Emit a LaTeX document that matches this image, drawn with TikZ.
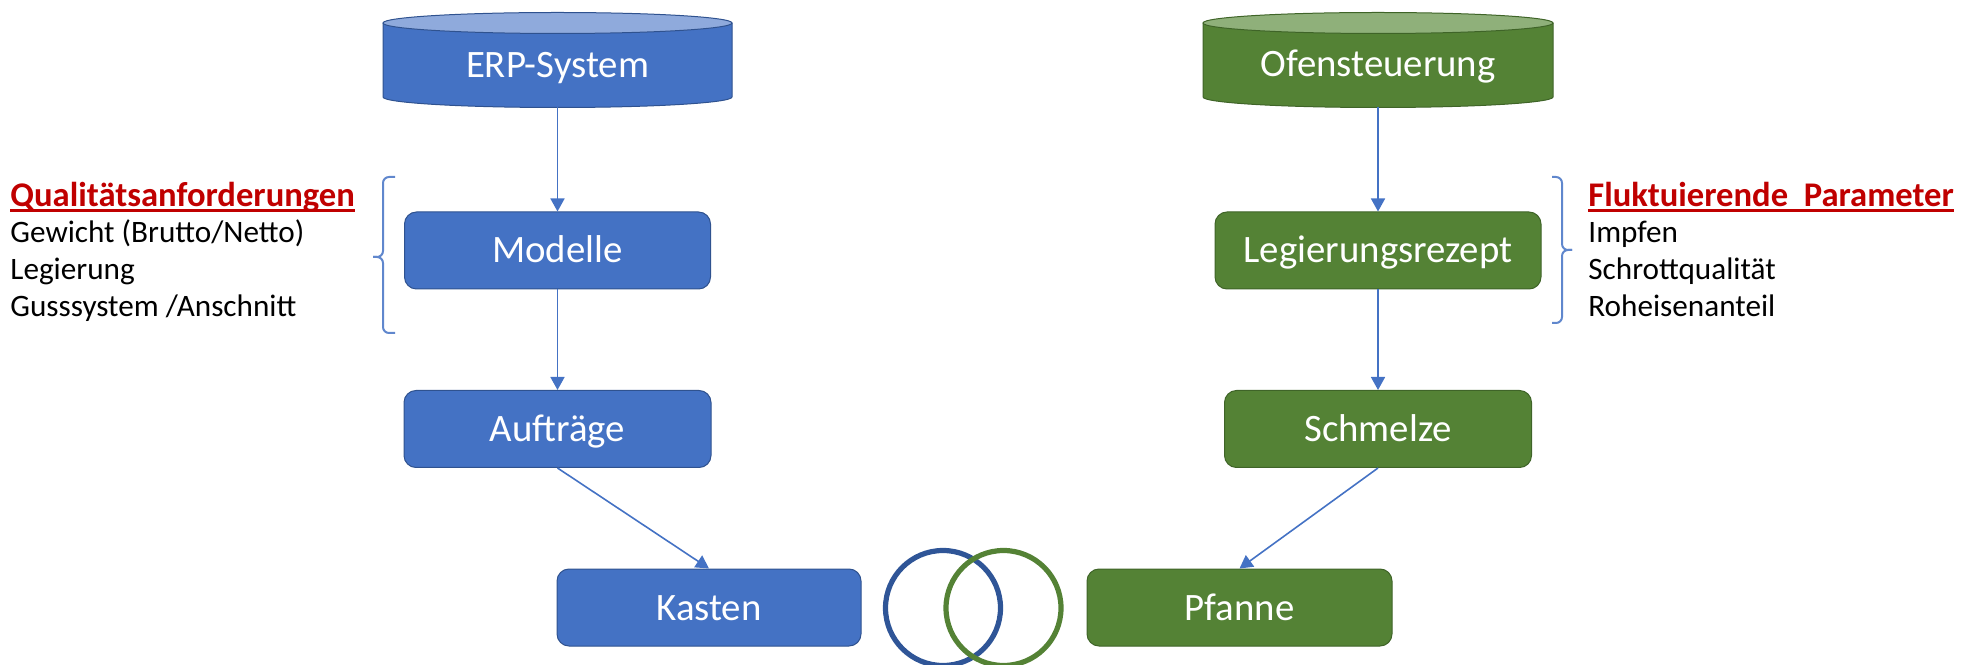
\documentclass[tikz,border=0pt]{standalone}
\usepackage{fontspec}
\setmainfont{Carlito}
\usetikzlibrary{arrows.meta}
\definecolor{boxblue}{HTML}{4472C4}
\definecolor{edgeblue}{HTML}{2F528F}
\definecolor{topblue}{HTML}{8FAADC}
\definecolor{boxgreen}{HTML}{548235}
\definecolor{edgegreen}{HTML}{3F6428}
\definecolor{topgreen}{HTML}{8FB07A}
\definecolor{ringblue}{HTML}{2F5597}
\definecolor{ringgreen}{HTML}{548235}
\definecolor{headred}{HTML}{C00000}
\definecolor{linkblue}{HTML}{4472C4}
\newcommand\diagboxfont{\fontsize{19.4}{23}\selectfont}
\newcommand\diagsidefont{\fontsize{15.6}{18}\selectfont}
\newcommand\diagheadfont{\fontsize{17.3}{20}\selectfont\bfseries}
% cylinder: centre x, x radius, fill, top fill, edge colour
\newcommand\drum[5]{%
  \fill[#3] ({#1-#2},641) -- ({#1-#2},567)
    arc[start angle=180,end angle=360,x radius=#2,y radius=10.5]
    -- ({#1+#2},641) -- cycle;
  \draw[#5,line width=0.5pt] ({#1-#2},641) -- ({#1-#2},567)
    arc[start angle=180,end angle=360,x radius=#2,y radius=10.5]
    -- ({#1+#2},641);
  \filldraw[fill=#4,draw=#5,line width=0.5pt] (#1,641) ellipse[x radius=#2,y radius=10.5];
}
\begin{document}
\begin{tikzpicture}[x=0.5pt,y=0.5pt,
  plate/.style={rounded corners=6pt, line width=0.5pt, text=white,
    font=\diagboxfont, inner sep=0pt, text height=12.5pt, text depth=0pt,
    minimum height=38.5pt},
  bluebox/.style={plate, fill=boxblue, draw=edgeblue},
  greenbox/.style={plate, fill=boxgreen, draw=edgegreen},
  drumtext/.style={text=white, font=\diagboxfont, inner sep=0pt,
    text height=12.5pt, text depth=0pt},
  link/.style={draw=linkblue, line width=0.8pt,
    -{Triangle[length=6.5pt,width=7pt]}},
  brace/.style={draw=linkblue!85, line width=1pt, rounded corners=3pt},
  sidetext/.style={anchor=base west, inner sep=0pt, font=\diagsidefont},
  headtext/.style={anchor=base west, inner sep=0pt, font=\diagheadfont, text=headred},
  ring/.style={line width=2.6pt}]
\useasboundingbox (0,0) rectangle (1968,664);

% data sources
\drum{557.5}{174.5}{boxblue}{topblue}{edgeblue}
\drum{1378}{175}{boxgreen}{topgreen}{edgegreen}
\node[drumtext] (erp) at (557.5,599) {ERP-System};
\node[drumtext] (ofen) at (1378,600) {Ofensteuerung};
\coordinate (erpbase) at (557.5,556.5);
\coordinate (ofenbase) at (1378,556.5);

% left chain
\node[bluebox, minimum width=153pt] (mod) at (557.5,413.5) {Modelle};
\node[bluebox, minimum width=153.5pt] (auf) at (557.5,235) {Aufträge};
\node[bluebox, minimum width=152pt] (kas) at (709,56.5) {Kasten};

% right chain
\node[greenbox, minimum width=163pt] (leg) at (1378,413.5) {Legierungsrezept};
\node[greenbox, minimum width=153.5pt] (sch) at (1378,235) {Schmelze};
\node[greenbox, minimum width=152.5pt] (pfa) at (1239.5,56.5) {Pfanne};

% connectors
\draw[link] (erpbase) -- (mod.north);
\draw[link] (mod.south) -- (auf.north);
\draw[link] (auf.south) -- (kas.north);
\draw[link] (ofenbase) -- (leg.north);
\draw[link] (leg.south) -- (sch.north);
\draw[link] (sch.south) -- (pfa.north);

% linked rings
\draw[ring, draw=ringblue] (943,56) circle[radius=57.5];
\draw[ring, draw=ringgreen] (1003.5,56) circle[radius=57.5];

% braces
\draw[brace] (395,487) -- (383,487) -- (383,407) -- (373,407);
\draw[brace] (373,407) -- (383,407) -- (383,331) -- (395,331);
\draw[brace] (1552,487) -- (1562,487) -- (1562,414) -- (1572,414);
\draw[brace] (1572,414) -- (1562,414) -- (1562,341) -- (1552,341);

% left annotation
\node[headtext] (qa) at (10,457) {Qualitätsanforderungen};
\draw[headred, line width=1.3pt] ([yshift=-1.8pt]qa.base west) -- ([yshift=-1.8pt]qa.base east);
\node[sidetext] (q1) at (10,421) {Gewicht (Brutto/Netto)};
\node[sidetext] (q2) at (10,384) {Legierung};
\node[sidetext] (q3) at (10,347) {Gusssystem /Anschnitt};

% right annotation
\node[headtext] (fp) at (1588,457) {Fluktuierende\ \ Parameter};
\draw[headred, line width=1.3pt] ([yshift=-1.8pt]fp.base west) -- ([yshift=-1.8pt]fp.base east);
\node[sidetext] (f1) at (1588,421) {Impfen};
\node[sidetext] (f2) at (1588,384) {Schrottqualität};
\node[sidetext] (f3) at (1588,347) {Roheisenanteil};
\end{tikzpicture}
\end{document}
